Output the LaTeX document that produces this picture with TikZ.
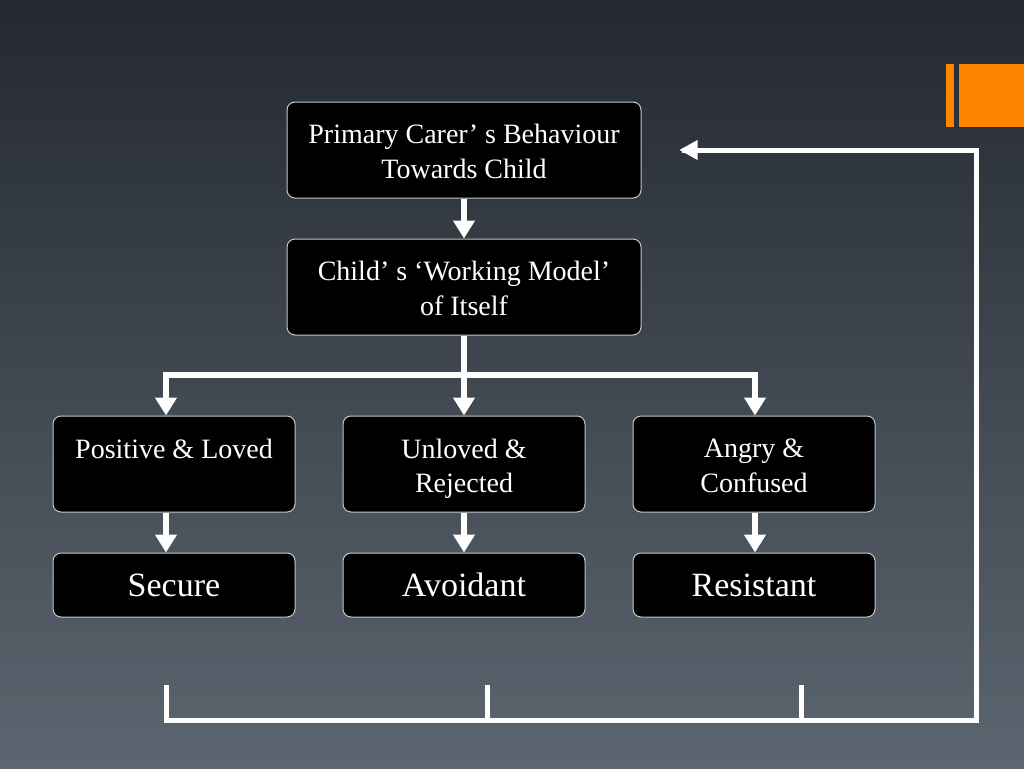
\documentclass[tikz,border=0pt]{standalone}
\usepackage{fontspec}
\setmainfont{Liberation Serif}
\usetikzlibrary{arrows.meta,calc}
\definecolor{bgtop}{RGB}{36,41,48}
\definecolor{bgbot}{RGB}{92,102,112}
\definecolor{orng}{RGB}{255,133,0}
\definecolor{edge}{RGB}{200,200,200}
\newcommand\lstrut{\rule[-6pt]{0pt}{34pt}}
\newcommand\bstrut{\rule[-7.4pt]{0pt}{38pt}}
\begin{document}
\begin{tikzpicture}[x=1pt,y=-1pt,
  box/.style={draw=edge,line width=1pt,fill=black,rounded corners=8pt,text=white,
    align=center,inner sep=0pt,font=\fontsize{28}{34}\selectfont},
  bigbox/.style={box,minimum width=354pt,minimum height=96pt},
  midbox/.style={box,minimum width=242pt,minimum height=96pt},
  lowbox/.style={box,minimum width=242pt,minimum height=64pt,font=\fontsize{34}{38}\selectfont},
  conn/.style={draw=white,line width=6pt},
  arr/.style={conn,-{Triangle[width=21pt,length=18pt]}},
  brk/.style={draw=white,line width=5pt,line join=miter}]
\useasboundingbox (0,0) rectangle (1024,768);
\shade[top color=bgtop,bottom color=bgbot] (0,0) rectangle (1024,768);
\fill[orng] (946,64) rectangle (954,127);
\fill[orng] (959,64) rectangle (1024,127);

\node[bigbox] (top) at (464,150) {\lstrut Primary Carer’ s Behaviour\\\lstrut Towards Child};
\node[bigbox] (wm) at (464,287) {\lstrut Child’ s ‘Working Model’\\\lstrut of Itself};
\node[midbox] (pos) at (174,464) {\lstrut Positive \& Loved\\\lstrut};
\node[midbox] (unl) at (464,464) {\lstrut Unloved \&\\\lstrut Rejected};
\node[midbox] (ang) at (754,464) {\lstrut Angry \&\\\lstrut Confused};
\node[lowbox] (sec) at (174,585) {\bstrut Secure};
\node[lowbox] (avo) at (464,585) {\bstrut Avoidant};
\node[lowbox] (res) at (754,585) {\bstrut Resistant};

\draw[arr] (top.south) -- (wm.north);
\coordinate (j) at (464,375);
\coordinate (jl) at (166,375);
\coordinate (jr) at (755,375);
\draw[conn] (wm.south) -- (j);
\draw[conn,line cap=rect] (jl) -- (jr);
\draw[arr] (jl) -- (jl |- pos.north);
\draw[arr] (j) -- (unl.north);
\draw[arr] (jr) -- (jr |- ang.north);
\draw[arr] (pos.south -| jl) -- (sec.north -| jl);
\draw[arr] (unl.south) -- (avo.north);
\draw[arr] (ang.south -| jr) -- (res.north -| jr);

\coordinate (b1) at (166,685);
\coordinate (b2) at (487,685);
\coordinate (b3) at (801,685);
\coordinate (bl) at (166,720);
\coordinate (br) at (976,720);
\coordinate (tr) at (976,150);
\draw[brk] (b1) -- (bl) -- (br) -- (tr) -- ([xshift=40pt]top.east);
\draw[brk] (b2) -- (b2 |- bl);
\draw[brk] (b3) -- (b3 |- bl);
\fill[white] ([xshift=38pt]top.east) -- ++(18,-10) -- ++(0,20) -- cycle;
\end{tikzpicture}
\end{document}
